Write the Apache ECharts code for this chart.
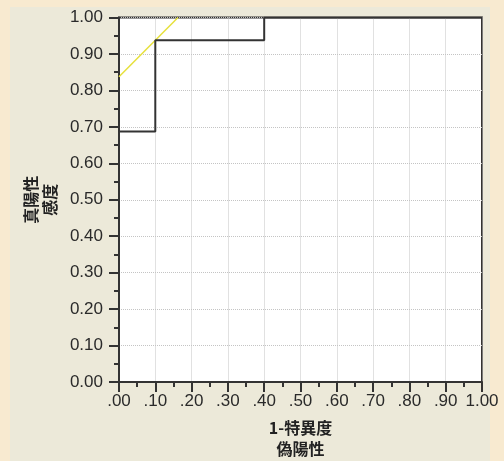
<!DOCTYPE html>
<html><head><meta charset="utf-8">
<script src="https://cdn.jsdelivr.net/npm/echarts@6/dist/echarts.min.js"></script>
<style>html,body{margin:0;padding:0;background:#f8ead0;}#c{width:504px;height:461px;}</style>
</head><body><div id="c"></div>
<script>
var fpr = [0, 0, 0.1, 0.1, 0.4, 0.4, 1.0];
var tpr = [0, 0.6875, 0.6875, 0.9375, 0.9375, 1.0, 1.0];
var tangentX = [0, 0.1625];
var tangentY = [0.8375, 1.0];
var xTitle = '1-特異度\n偽陽性';
var yTitle = '真陽性\n感度';

var chart = echarts.init(document.getElementById('c'));
var font = '"Liberation Sans", Arial, sans-serif';
var cjk = '"Noto Sans CJK JP", sans-serif';
chart.setOption({
  backgroundColor: '#f8ead0',
  animation: false,
  graphic: [{type:'rect', z:-10, silent:true, shape:{x:10,y:7,width:480,height:454}, style:{fill:'#ece9d9'}}],
  grid: {left:119, right:22, top:17.5, bottom:79, show:true, containLabel:false, outerBoundsMode:'none',
    backgroundColor:'#ffffff', borderColor:'#333333', borderWidth:2},
  xAxis: {
    type:'value', min:0, max:1, interval:0.1,
    name: xTitle, nameLocation:'middle', nameGap:35,
    nameTextStyle:{fontFamily:cjk, fontWeight:'bold', fontSize:16, color:'#222', lineHeight:21},
    axisLine:{show:true, lineStyle:{color:'#333', width:2}},
    axisTick:{show:true, inside:false, length:10, lineStyle:{color:'#333', width:2}},
    minorTick:{show:true, splitNumber:2, length:5, lineStyle:{color:'#333', width:2}},
    axisLabel:{margin:11, fontSize:17, color:'#2a2a2a', fontFamily:font,
      formatter:function(v){ if (v>=0.999) return '1.00'; return v.toFixed(2).replace(/^0/,''); }},
    splitLine:{show:true, lineStyle:{color:'#c4c4c4', type:'dotted', width:1}}
  },
  yAxis: {
    type:'value', min:0, max:1, interval:0.1,
    name: yTitle, nameLocation:'middle', nameGap:60, nameRotate:90,
    nameTextStyle:{fontFamily:cjk, fontWeight:'bold', fontSize:16, color:'#222', lineHeight:19},
    axisLine:{show:true, lineStyle:{color:'#333', width:2}},
    axisTick:{show:true, inside:false, length:10, lineStyle:{color:'#333', width:2}},
    minorTick:{show:true, splitNumber:2, length:5, lineStyle:{color:'#333', width:2}},
    axisLabel:{margin:16, fontSize:17, color:'#2a2a2a', fontFamily:font,
      formatter:function(v){ return v.toFixed(2); }},
    splitLine:{show:true, lineStyle:{color:'#c4c4c4', type:'dotted', width:1}}
  },
  series: [
    {type:'line', data: tangentX.map(function(x,i){return [x,tangentY[i]];}), showSymbol:false,
      lineStyle:{color:'#e6e03c', width:1.5}, z:3},
    {type:'line', data: fpr.map(function(x,i){return [x,tpr[i]];}), showSymbol:false,
      lineStyle:{color:'#333333', width:2}, z:4}
  ]
});
</script></body></html>
